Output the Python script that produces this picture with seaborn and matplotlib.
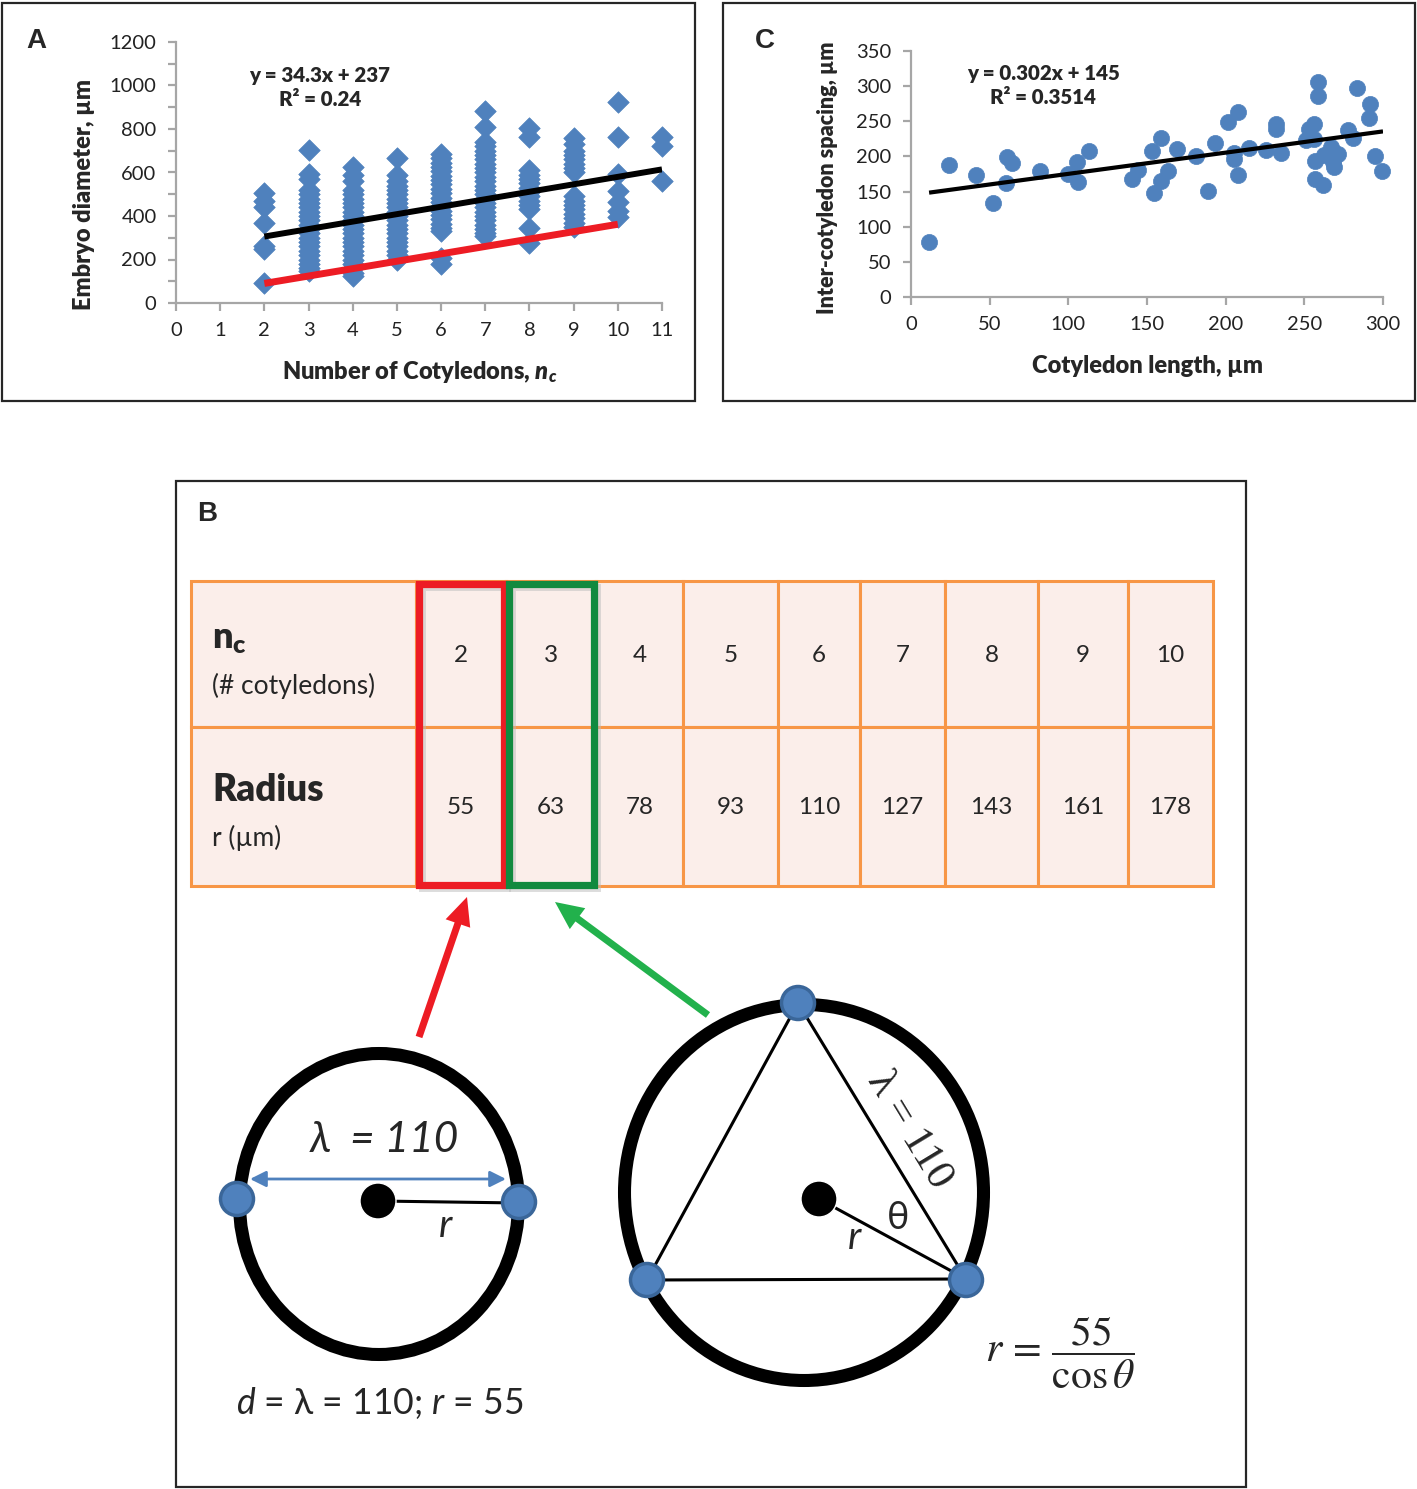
import numpy as np
import pandas as pd
import matplotlib.pyplot as plt
from matplotlib.patches import Rectangle, Ellipse, Circle
import seaborn as sns

# ---- panel A data: embryo diameter by number of cotyledons ----
nc_levels = [2, 3, 4, 5, 6, 7, 8, 9, 10, 11]
diam_n2 = [505, 470, 440, 370, 262, 248, 92]
diam_n3 = [703, 592, 570, 520, 500, 480, 460, 440, 420, 400, 380, 360, 340, 320,
           300, 280, 260, 240, 220, 200, 180, 160, 145]
diam_n4 = [625, 590, 560, 520, 500, 480, 460, 440, 420, 400, 380, 360, 340, 320,
           300, 280, 260, 240, 220, 200, 180, 160, 140, 125]
diam_n5 = [665, 590, 560, 540, 520, 500, 480, 460, 440, 420, 400, 380, 360, 340,
           320, 300, 280, 260, 240, 220, 200]
diam_n6 = [685, 665, 645, 625, 605, 585, 565, 545, 525, 505, 485, 465, 445, 425,
           405, 385, 365, 345, 330, 205, 180]
diam_n7 = [882, 811, 742, 720, 700, 680, 660, 640, 620, 600, 580, 560, 540, 520,
           500, 480, 460, 440, 420, 400, 380, 360, 340, 320, 310]
diam_n8 = [805, 765, 612, 590, 570, 550, 530, 510, 490, 470, 450, 430, 345, 275]
diam_n9 = [760, 730, 700, 680, 660, 640, 620, 600, 490, 470, 450, 430, 410, 390,
           370, 350]
diam_n10 = [925, 765, 592, 516, 466, 424, 397]
diam_n11 = [765, 722, 562]
diam_columns = [diam_n2, diam_n3, diam_n4, diam_n5, diam_n6, diam_n7, diam_n8,
                diam_n9, diam_n10, diam_n11]
fitA_slope, fitA_icpt = 34.3, 237
lower_x = [2, 10]
lower_y = [90, 362]

# ---- panel C data: inter-cotyledon spacing vs cotyledon length ----
cot_len = [11.5, 24.3, 41.6, 52.2, 60.1, 61.2, 64.4, 81.9, 99.6, 105.3, 106.4,
           113.0, 140.5, 144.3, 153.3, 154.4, 158.8, 158.8, 163.5, 168.9, 181.0,
           188.5, 193.4, 201.5, 205.0, 205.0, 207.9, 207.9, 214.7, 225.4, 231.8,
           231.8, 235.4, 251.0, 253.1, 255.9, 256.3, 258.8, 258.4, 256.9, 256.9,
           261.6, 262.3, 267.0, 268.0, 269.0, 271.2, 277.6, 280.8, 283.6, 291.5,
           291.0, 294.7, 299.6]
spacing = [78, 187.6, 173.8, 133.8, 162.9, 198.6, 190, 178.6, 174.8, 192.4, 163.8,
           207.6, 167.6, 180.5, 207.6, 148.6, 226.2, 165.2, 179.5, 210.5, 200,
           150.5, 219, 248.6, 197, 204.3, 262.9, 173.8, 211.9, 209.5, 246.2, 239,
           204.8, 223.3, 239, 246.2, 224.8, 305.7, 285.7, 193.8, 167.6, 159, 201.9,
           212.9, 191.4, 184.3, 203.3, 238, 226.2, 297, 274.8, 254.3, 201, 179.5]
fitC_slope, fitC_icpt = 0.302, 145

# ---- panel B table ----
nc_table = [2, 3, 4, 5, 6, 7, 8, 9, 10]
radius_table = [55, 63, 78, 93, 110, 127, 143, 161, 178]

sns.set_theme(style='ticks')
plt.rcParams['font.family'] = ['Lato', 'DejaVu Sans']
plt.rcParams['mathtext.fontset'] = 'custom'
plt.rcParams['mathtext.rm'] = 'Lato'
plt.rcParams['mathtext.it'] = 'Lato:italic'
plt.rcParams['mathtext.bf'] = 'Lato:heavy'
plt.rcParams['mathtext.bfit'] = 'Lato:italic:heavy'

blue = '#4F81BD'
grey = '#A6A6A6'
BOLD = 'heavy'
W, H = 1417, 1489
fig = plt.figure(figsize=(W / 100, H / 100), dpi=100)

# overlay in pixel coordinates for frames and the diagram panel
ov = fig.add_axes([0, 0, 1, 1], zorder=0)
ov.set_xlim(0, W)
ov.set_ylim(H, 0)
ov.axis('off')


def style_axes(ax):
    for s in ['top', 'right']:
        ax.spines[s].set_visible(False)
    for s in ['left', 'bottom']:
        ax.spines[s].set_color(grey)
        ax.spines[s].set_linewidth(1.6)
    ax.tick_params(which='both', color=grey, width=1.6, length=6, labelsize=14.5,
                   pad=8, labelcolor='#222222')
    ax.set_facecolor('none')
    for coll in ax.collections:
        coll.set_clip_on(False)


# ---------------- panel A ----------------
axA = fig.add_axes([176 / W, 1 - 303 / H, 486 / W, 261 / H], zorder=1)
dfA = pd.DataFrame({'nc': np.repeat(nc_levels, [len(c) for c in diam_columns]),
                    'diam': np.concatenate(diam_columns)})
sns.scatterplot(data=dfA, x='nc', y='diam', marker='D', s=120, color=blue,
                edgecolor=blue, linewidth=0.5, ax=axA, zorder=2)
xa = np.array([nc_levels[0], nc_levels[-1]])
axA.plot(xa, fitA_slope * xa + fitA_icpt, color='black', lw=4.3, zorder=3,
         solid_capstyle='butt')
axA.plot(lower_x, lower_y, color='#ED1C24', lw=5, zorder=4, solid_capstyle='butt')
axA.set_xlim(0, 11)
axA.set_ylim(0, 1200)
axA.set_xticks(range(0, 12))
axA.set_yticks(range(0, 1201, 200))
axA.set_yticks(range(100, 1200, 200), minor=True)
style_axes(axA)
axA.set_xlabel(r'Number of Cotyledons, $\mathbfit{n}_{\mathbfit{c}}$', fontsize=17,
               fontweight=BOLD)
axA.xaxis.set_label_coords(0.502, -0.264)
axA.xaxis.label.set_va('center')
axA.set_ylabel('Embryo diameter, µm', fontsize=17, fontweight=BOLD)
axA.yaxis.set_label_coords(-0.19, 0.414)
axA.yaxis.label.set_va('center')
axA.text(3.26, 990, 'y = 34.3x + 237\nR² = 0.24', ha='center', va='center',
         fontsize=14.8, fontweight=BOLD, linespacing=1.35)

# ---------------- panel C ----------------
axC = fig.add_axes([911 / W, 1 - 297 / H, 472 / W, 246 / H], zorder=1)
sns.scatterplot(x=cot_len, y=spacing, marker='o', s=135, color=blue,
                edgecolor=blue, linewidth=0.5, ax=axC, zorder=2)
xc = np.array([min(cot_len), 300])
axC.plot(xc, fitC_slope * xc + fitC_icpt, color='black', lw=3, zorder=3,
         solid_capstyle='butt')
axC.set_xlim(0, 300)
axC.set_ylim(0, 350)
axC.set_xticks(range(0, 301, 50))
axC.set_yticks(range(0, 351, 50))
style_axes(axC)
axC.set_xlabel('Cotyledon length, µm', fontsize=17, fontweight=BOLD)
axC.xaxis.set_label_coords(0.502, -0.28)
axC.xaxis.label.set_va('center')
axC.set_ylabel('Inter-cotyledon spacing, µm', fontsize=15.5, fontweight=BOLD)
axC.yaxis.set_label_coords(-0.176, 0.484)
axC.yaxis.label.set_va('center')
axC.text(84, 301, 'y = 0.302x + 145\nR² = 0.3514', ha='center', va='center',
         fontsize=14.8, fontweight=BOLD, linespacing=1.35)

# ---------------- frames and panel letters ----------------
for (x0, y0, w, h) in [(2, 3, 693, 398), (723, 3, 692, 398), (176, 481, 1070, 1006)]:
    ov.add_patch(Rectangle((x0, y0), w, h, fill=False, ec='#262626', lw=1.6))
for lab, lx, ly in [('A', 36, 41), ('C', 765, 41), ('B', 207, 514)]:
    ov.text(lx, ly, lab, fontsize=20, fontweight='bold', ha='center', va='center',
            family=['Liberation Sans'])

# ---------------- panel B: table ----------------
orange = '#F79646'
cell_fill = '#FBEEEA'
col_edges = [191, 416, 506, 596, 683, 778, 860, 945, 1038, 1128, 1213]
row_edges = [581, 727, 886]
for i in range(len(col_edges) - 1):
    for j in range(2):
        ov.add_patch(Rectangle((col_edges[i], row_edges[j]),
                               col_edges[i + 1] - col_edges[i],
                               row_edges[j + 1] - row_edges[j],
                               fc=cell_fill, ec=orange, lw=2.2))
for i, (n, r) in enumerate(zip(nc_table, radius_table)):
    cx = (col_edges[i + 1] + col_edges[i + 2]) / 2
    ov.text(cx, 656, str(n), ha='center', va='center', fontsize=17.5)
    ov.text(cx, 808, str(r), ha='center', va='center', fontsize=17.5)
ov.text(212, 640, r'$\mathbf{n_c}$', ha='left', va='center', fontsize=26)
ov.text(212, 686, '(# cotyledons)', ha='left', va='center', fontsize=19)
ov.text(212, 790, 'Radius', ha='left', va='center', fontsize=26.5, fontweight=BOLD)
ov.text(212, 838, 'r (µm)', ha='left', va='center', fontsize=19)
for x0, col in [(419, '#ED1C24'), (509, '#118A3F')]:
    ov.add_patch(Rectangle((x0 + 3, 587), 85, 301, fill=False, ec='#BBBBBB',
                           lw=5, alpha=0.5))
    ov.add_patch(Rectangle((x0, 584), 85, 301, fill=False, ec=col, lw=5.2))

# arrows
ov.arrow(419, 1037, 467 - 419, 897 - 1037, width=7, head_width=26, head_length=28,
         length_includes_head=True, color='#ED1C24', lw=0)
ov.arrow(708, 1015, 555 - 708, 902 - 1015, width=7, head_width=26, head_length=28,
         length_includes_head=True, color='#22B14C', lw=0)


def dot(x, y):
    ov.add_patch(Circle((x, y), 16.5, fc=blue, ec='#3A6699', lw=2.5, zorder=5))


# left diagram (2 cotyledons)
ov.add_patch(Ellipse((379, 1204), 279, 301, fill=False, ec='black', lw=9.4))
ov.plot([378, 519], [1201, 1203], color='black', lw=2.2)
ov.annotate('', xy=(250, 1179), xytext=(506, 1179),
            arrowprops=dict(arrowstyle='<|-|>', color=blue, lw=2,
                            mutation_scale=24, shrinkA=0, shrinkB=0))
ov.add_patch(Circle((378, 1201), 18, fc='black', zorder=5))
dot(237, 1199)
dot(519, 1202)
ov.text(384, 1140, 'λ  = 110', ha='center', va='center', fontsize=30.5, style='italic')
ov.text(445, 1226, 'r', ha='center', va='center', fontsize=28, style='italic')
ov.text(380, 1403, r'$d$ = λ = 110; $r$ = 55', ha='center', va='center',
        fontsize=25.6)

# right diagram (3 cotyledons)
ov.add_patch(Ellipse((804, 1192.5), 359, 376, fill=False, ec='black', lw=9.4))
ov.plot([798, 647, 966, 798], [1003, 1280, 1279, 1003], color='black', lw=2.2)
ov.plot([819, 966], [1199, 1279], color='black', lw=2.2)
ov.add_patch(Circle((819, 1199), 18, fc='black', zorder=5))
dot(798, 1003)
dot(647, 1280)
dot(966, 1280)
ov.text(909, 1130, 'λ = 110', ha='center', va='center', fontsize=31,
        rotation=-58.8, rotation_mode='anchor', family=['Liberation Serif'])
ov.text(898, 1218, 'θ', ha='center', va='center', fontsize=27)
ov.text(854, 1238, 'r', ha='center', va='center', fontsize=28, style='italic')
ov.text(1060, 1353, r'$r\,=\,\dfrac{55}{\cos\theta}$', ha='center', va='center',
        fontsize=30, math_fontfamily='stix')

fig.savefig('out.png', dpi=100)
